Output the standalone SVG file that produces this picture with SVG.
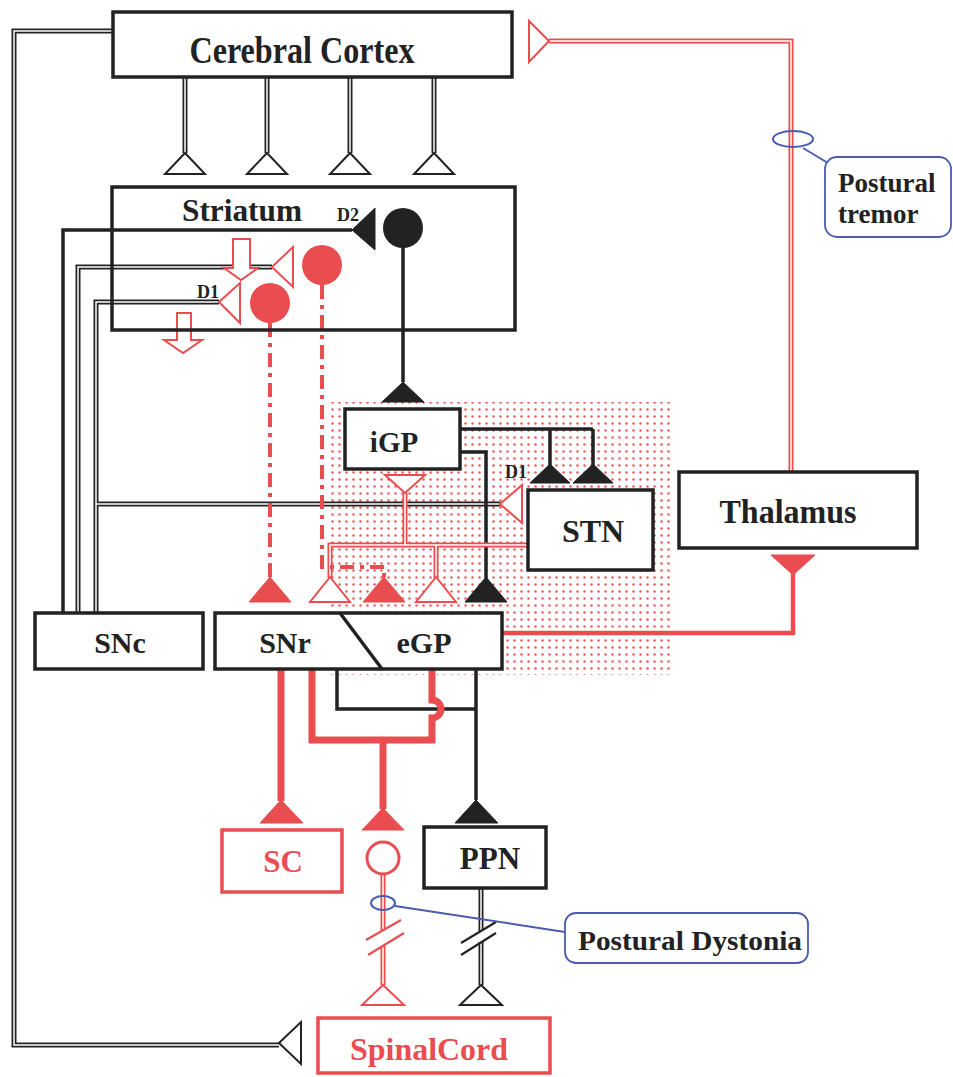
<svg xmlns="http://www.w3.org/2000/svg" width="953" height="1077" viewBox="0 0 953 1077">
<defs>
<pattern id="dots" width="7" height="7" patternUnits="userSpaceOnUse"><circle cx="3.5" cy="3.5" r="1.25" fill="#ec5a5a"/></pattern>
<style>
.box{fill:#fff;stroke:#222;stroke-width:3.5}
.rbox{fill:#fff;stroke:#e94d4f;stroke-width:3.5}
.cb{fill:#fff;stroke:#4a5bb0;stroke-width:1.8}
.t{font-family:"Liberation Serif","Times New Roman",serif;font-weight:bold;fill:#222}
.rt{fill:#e94d4f}
.dk{fill:none;stroke:#222;stroke-width:5}
.dr{fill:none;stroke:#e94d4f;stroke-width:5}
.dw{fill:none;stroke:#fff;stroke-width:1.5}
.bl{fill:none;stroke:#222;stroke-width:3.5}
.rl{fill:none;stroke:#e94d4f;stroke-width:7}
.rl2{fill:none;stroke:#e94d4f;stroke-width:4.5}
.dash{fill:none;stroke:#e94d4f;stroke-width:4;stroke-dasharray:14 6 4 6}
.tb{fill:#222;stroke:#222;stroke-width:1}
.tr{fill:#e94d4f;stroke:#e94d4f;stroke-width:1}
.to{fill:#fff;stroke:#222;stroke-width:2}
.tro{fill:#fff;stroke:#e94d4f;stroke-width:2}
.blue{fill:none;stroke:#4a5bb0;stroke-width:2}
</style>
</defs>
<rect width="953" height="1077" fill="#fff"/>
<rect x="328" y="402" width="344" height="273" fill="url(#dots)"/>

<g id="connectors">
<path class="dk" d="M113,31 H14 V1045 H279 M185,77 V153 M267,77 V153 M350,77 V153 M434,77 V153 M78,613 V267 H272 M96,613 V302 H219 M96,504 H500 M481,888 V931 M481,942 V985"/>
<path class="dw" d="M113,31 H14 V1045 H279 M185,77 V153 M267,77 V153 M350,77 V153 M434,77 V153 M78,613 V267 H272 M96,613 V302 H219 M96,504 H500 M481,888 V931 M481,942 V985"/>
<path class="bl" d="M63,613 V230 H352" stroke-width="3"/>
<path class="bl" d="M403,228 V382 M460,429 H593 M550,429 V466 M593,429 V466 M460,452 H486 V578 M476,669 V800 M337,669 V709 H476"/>
<path class="dr" d="M791,472 V41 H549 M528,545 H330 V578 M436,545 V578 M405,545 V493 M383,874 V930 M383,946 V985"/>
<path class="dw" d="M791,472 V41 H549 M528,545 H330 V578 M436,545 V578 M405,545 V493 M383,874 V930 M383,946 V985"/>
<path class="rl2" d="M793,572 V633 H502"/>
<path class="rl" d="M281,669 V801 M312,669 V740 H432 V718 A9,9 0 0 0 432,700 V669 M383,740 V809"/>
<path class="dash" d="M270,323 V578"/>
<path class="dash" d="M322,285 V567 H384 V578"/>
<path d="M366,940 L401,920 M368,955 L404,933" stroke="#e94d4f" stroke-width="2.2" fill="none"/>
<path d="M461,943 L496,922 M461,955 L496,933" stroke="#222" stroke-width="2.2" fill="none"/>
<polygon class="to" points="185,153 165,174 205,174"/>
<polygon class="to" points="267,153 247,174 287,174"/>
<polygon class="to" points="350,153 330,174 370,174"/>
<polygon class="to" points="434,153 414,174 454,174"/>
<polygon class="tb" points="352,230 375,208 375,250"/>
<polygon class="tb" points="403,382 382,402 424,402"/>
<polygon class="tb" points="550,464 530,483 570,483"/>
<polygon class="tb" points="593,464 573,483 613,483"/>
<polygon class="tb" points="486,577 465,602 507,602"/>
<polygon class="tb" points="476,800 455,823 498,823"/>
<polygon class="tr" points="270,577 249,602 291,602"/>
<polygon class="tr" points="384,577 363,602 405,602"/>
<polygon class="tr" points="281,800 260,823 303,823"/>
<polygon class="tr" points="383,808 362,830 404,830"/>
<polygon class="tr" points="793,575 771,555 815,555"/>
<polygon class="tro" points="272,267 293,247 293,287"/>
<polygon class="tro" points="219,302 240,283 240,323"/>
<polygon class="tro" points="500,504 522,485 522,523"/>
<polygon class="tro" points="405,493 385,475 425,475"/>
<polygon class="tro" points="330,577 310,602 350,602"/>
<polygon class="tro" points="436,577 416,602 456,602"/>
<polygon class="tro" points="383,985 362,1005 404,1005"/>
<polygon class="tro" points="549,41 529,21 529,62"/>
<polygon class="to" points="481,985 460,1005 502,1005"/>
<polygon class="to" points="279,1043 301,1022 301,1064"/>
<circle cx="403" cy="228" r="20" fill="#222"/>
<circle cx="322" cy="265" r="20" fill="#e94d4f"/>
<circle cx="270" cy="303" r="20" fill="#e94d4f"/>
<circle cx="383" cy="858" r="16" fill="#fff" stroke="#e94d4f" stroke-width="3"/>
<polygon class="tro" stroke-width="2.5" points="233,239 250,239 250,268 258,268 241,280 224,268 233,268"/>
<polygon class="tro" stroke-width="2.5" points="177,313 191,313 191,340 202,340 183,353 164,340 177,340"/>
<ellipse class="blue" cx="793" cy="139" rx="20" ry="8"/>
<path class="blue" d="M803,148 L828,163"/>
<ellipse class="blue" cx="383" cy="903" rx="12" ry="7"/>
<path class="blue" d="M395,906 L565,932" stroke-width="1.6"/>
</g>

<g id="cortex"><rect class="box" x="113" y="12" width="399" height="65" stroke-width="4"/><text class="t" x="302" y="63" font-size="38" text-anchor="middle" textLength="225" lengthAdjust="spacingAndGlyphs">Cerebral Cortex</text></g>
<g id="striatum"><rect class="box" x="112" y="187" width="403" height="143" style="fill:none"/><text class="t" x="242" y="221" font-size="32" text-anchor="middle" textLength="120" lengthAdjust="spacingAndGlyphs">Striatum</text><text class="t" x="348" y="221" font-size="18" text-anchor="middle">D2</text><text class="t" x="208" y="298" font-size="18" text-anchor="middle">D1</text></g>
<g id="igp"><rect class="box" x="345" y="409" width="115" height="60"/><text class="t" x="394" y="452" font-size="29" text-anchor="middle">iGP</text></g>
<g id="stn"><rect class="box" x="528" y="490" width="125" height="80"/><text class="t" x="593" y="542" font-size="32" text-anchor="middle">STN</text><text class="t" x="516" y="478" font-size="18" text-anchor="middle">D1</text></g>
<g id="thalamus"><rect class="box" x="679" y="472" width="238" height="76"/><text class="t" x="788" y="523" font-size="34" text-anchor="middle" textLength="137" lengthAdjust="spacingAndGlyphs">Thalamus</text></g>
<g id="snc"><rect class="box" x="35" y="613" width="168" height="56"/><text class="t" x="120" y="653" font-size="30" text-anchor="middle">SNc</text></g>
<g id="snr-egp"><rect class="box" x="215" y="613" width="287" height="56"/><path d="M340,613 L382,669" stroke="#222" stroke-width="3.5"/><text class="t" x="285" y="653" font-size="30" text-anchor="middle">SNr</text><text class="t" x="424" y="653" font-size="30" text-anchor="middle">eGP</text></g>
<g id="sc"><rect class="rbox" x="222" y="830" width="120" height="62"/><text class="t rt" x="283" y="872" font-size="31" text-anchor="middle">SC</text></g>
<g id="ppn"><rect class="box" x="424" y="827" width="122" height="61"/><text class="t" x="490" y="869" font-size="31" text-anchor="middle">PPN</text></g>
<g id="spinalcord"><rect class="rbox" x="318" y="1018" width="232" height="55"/><text class="t rt" x="429" y="1060" font-size="31" text-anchor="middle" textLength="158" lengthAdjust="spacingAndGlyphs">SpinalCord</text></g>
<g id="postural-tremor"><rect class="cb" x="825" y="157" width="126" height="80" rx="12"/><text class="t" x="838" y="192" font-size="27">Postural</text><text class="t" x="838" y="223" font-size="27">tremor</text></g>
<g id="postural-dystonia"><rect class="cb" x="565" y="913" width="243" height="50" rx="11"/><text class="t" x="690" y="950" font-size="27" text-anchor="middle" textLength="224" lengthAdjust="spacingAndGlyphs">Postural Dystonia</text></g>
</svg>
